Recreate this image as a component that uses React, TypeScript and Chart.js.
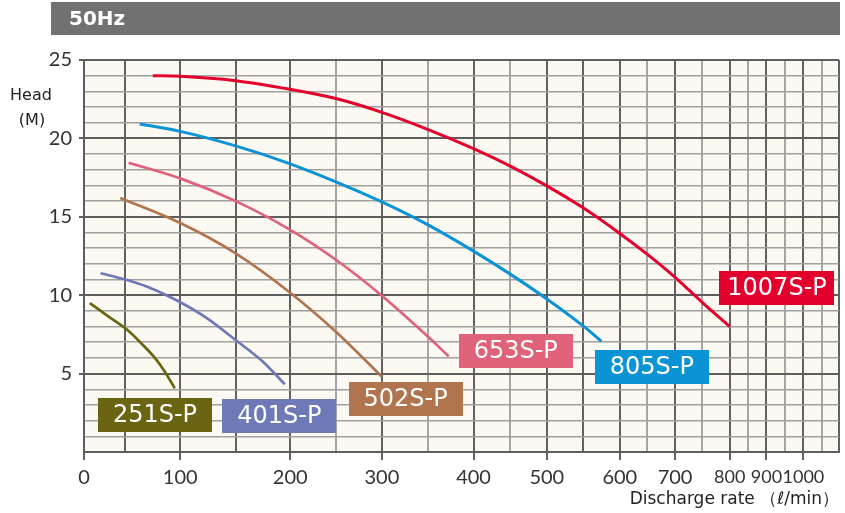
import React, { useEffect, useRef } from 'react';
import { Chart, registerables, LinearScale } from 'chart.js';

// ---------------- data ----------------
const discharge251 = [7, 29, 52, 64, 76, 86, 95];
const head251 = [9.5, 8.67, 7.78, 6.97, 6.08, 5.12, 4.06];
const discharge401 = [20, 50, 70, 100, 124, 150, 175, 195];
const head401 = [11.4, 11.0, 10.54, 9.55, 8.54, 7.14, 5.76, 4.32];
const discharge502 = [44, 100, 150, 200, 250, 300];
const head502 = [16.2, 14.6, 12.67, 10.16, 7.67, 4.8];
const discharge653 = [53, 100, 150, 200, 250, 300, 350, 373];
const head653 = [18.45, 17.45, 16.0, 14.17, 12.26, 9.97, 7.38, 6.1];
const discharge805 = [63, 100, 150, 200, 250, 300, 350, 400, 450, 500, 550, 575];
const head805 = [20.92, 20.45, 19.52, 18.38, 17.23, 15.95, 14.5, 12.81, 11.36, 9.76, 8.04, 7.06];
const discharge1007 = [75, 100, 150, 200, 250, 300, 350, 400, 450, 500, 550, 600, 650, 700, 750, 800];
const head1007 = [24.0, 23.96, 23.68, 23.13, 22.54, 21.66, 20.58, 19.35, 18.25, 16.97, 15.57, 13.94, 12.6, 11.14, 9.53, 8.0];

const seriesNames = ['251S-P', '401S-P', '502S-P', '653S-P', '805S-P', '1007S-P'];
const seriesColors = ['#6b6412', '#6e79b8', '#b0744e', '#df6279', '#0a94d6', '#e3002d'];

// label anchors (discharge, head) for the coloured name boxes
const labelAtDischarge = [77, 190, 326, 458, 658, 929];
const labelAtHead = [2.36, 2.3, 3.38, 6.47, 5.42, 10.46];

// x axis: printed (non-linear) scale, break values and their relative spacing
const xBreakValues = [0, 50, 100, 150, 200, 250, 300, 350, 400, 450, 500, 550, 600, 650, 700, 750, 800, 850, 900, 950, 1000, 1050, 1100];
const xBreakUnits = [0, 41.3, 96.3, 151.7, 206.3, 252, 298, 343.7, 389.7, 426, 463, 499.3, 536, 563.7, 591.3, 618.7, 646, 664.7, 682.7, 701, 719.7, 738, 755.3];
const xTickLabels = ['0', '100', '200', '300', '400', '500', '600', '700', '800', '900', '1000'];
const yTickLabels = ['5', '10', '15', '20', '25'];
const xLightGridValues = [250, 350, 450, 650, 750, 850, 950, 1050];

const FONT = "'DejaVu Sans', sans-serif";
const TICK_FONT = "Lato, 'DejaVu Sans', sans-serif";

function valueToFraction(v: number): number {
  const n = xBreakValues.length;
  const total = xBreakUnits[n - 1];
  if (v <= xBreakValues[0]) return xBreakUnits[0] / total;
  for (let i = 1; i < n; i++) {
    if (v <= xBreakValues[i]) {
      const t = (v - xBreakValues[i - 1]) / (xBreakValues[i] - xBreakValues[i - 1]);
      return (xBreakUnits[i - 1] + t * (xBreakUnits[i] - xBreakUnits[i - 1])) / total;
    }
  }
  return 1;
}
function fractionToValue(f: number): number {
  const n = xBreakValues.length;
  const u = f * xBreakUnits[n - 1];
  for (let i = 1; i < n; i++) {
    if (u <= xBreakUnits[i]) {
      const t = (u - xBreakUnits[i - 1]) / (xBreakUnits[i] - xBreakUnits[i - 1]);
      return xBreakValues[i - 1] + t * (xBreakValues[i] - xBreakValues[i - 1]);
    }
  }
  return xBreakValues[n - 1];
}

class PiecewiseScale extends LinearScale {
  static id = 'piecewise';
  static defaults = LinearScale.defaults;
  getPixelForValue(value: any) {
    if (value === null || value === undefined || isNaN(value)) return NaN;
    return this.getPixelForDecimal(valueToFraction(+value));
  }
  getValueForPixel(pixel: number) {
    return fractionToValue(this.getDecimalForPixel(pixel));
  }
}

Chart.register(...registerables, PiecewiseScale as any);

const toPoints = (xs: number[], ys: number[]) => xs.map((x, i) => ({ x, y: ys[i] }));
const seriesData = [
  toPoints(discharge251, head251),
  toPoints(discharge401, head401),
  toPoints(discharge502, head502),
  toPoints(discharge653, head653),
  toPoints(discharge805, head805),
  toPoints(discharge1007, head1007),
];

const backgroundPlugin = {
  id: 'plotBackground',
  beforeDraw(chart: any) {
    const { ctx, chartArea } = chart;
    ctx.save();
    ctx.fillStyle = '#fcf8f2';
    ctx.fillRect(chartArea.left, chartArea.top, chartArea.right - chartArea.left, chartArea.bottom - chartArea.top);
    // header band
    ctx.fillStyle = '#717171';
    ctx.fillRect(51, 2, 789, 33);
    ctx.fillStyle = '#ffffff';
    ctx.font = `bold 20px ${FONT}`;
    ctx.textAlign = 'left';
    ctx.textBaseline = 'middle';
    ctx.fillText('50Hz', 69, 20);
    // y axis title
    ctx.fillStyle = '#222';
    ctx.font = `16px ${FONT}`;
    ctx.textAlign = 'center';
    ctx.fillText('Head', 31, 96);
    ctx.fillText('(M)', 32, 121);
    ctx.restore();
  },
};

const labelPlugin = {
  id: 'seriesLabels',
  afterDatasetsDraw(chart: any) {
    const { ctx } = chart;
    const xs = chart.scales.x;
    const ys = chart.scales.y;
    seriesNames.forEach((name, i) => {
      const cx = xs.getPixelForValue(labelAtDischarge[i]);
      const cy = ys.getPixelForValue(labelAtHead[i]);
      ctx.save();
      ctx.font = `24px ${FONT}`;
      const tw = ctx.measureText(name).width;
      const w = Math.max(114, tw + 16);
      const h = 34;
      ctx.fillStyle = seriesColors[i];
      ctx.fillRect(Math.round(cx - w / 2), Math.round(cy - h / 2), Math.round(w), h);
      ctx.fillStyle = '#ffffff';
      ctx.textAlign = 'center';
      ctx.textBaseline = 'middle';
      ctx.fillText(name, cx, cy + 1);
      ctx.restore();
    });
  },
};

const isLightX = (v: number) => xLightGridValues.includes(v);

export default function App() {
  const ref = useRef<HTMLCanvasElement>(null);
  useEffect(() => {
    document.body.style.margin = '0';
    const canvas = ref.current!;
    const chart = new Chart(canvas, {
      type: 'line',
      data: {
        datasets: seriesData.map((d, i) => ({
          label: seriesNames[i],
          data: d,
          borderColor: seriesColors[i],
          backgroundColor: seriesColors[i],
          borderWidth: i >= 4 ? 3 : 2.7,
          pointRadius: 0,
          fill: false,
          cubicInterpolationMode: 'monotone',
        })),
      },
      options: {
        responsive: false,
        animation: false,
        devicePixelRatio: 1,
        layout: { padding: { top: 60, right: 6, left: 0, bottom: 0 } },
        plugins: { legend: { display: false }, tooltip: { enabled: false } },
        scales: {
          x: {
            type: 'piecewise' as any,
            min: 0,
            max: 1100,
            afterBuildTicks: (scale: any) => {
              scale.ticks = xBreakValues.map((v) => ({ value: v }));
            },
            afterFit: (scale: any) => {
              scale.height = 61;
            },
            grid: {
              color: (ctx: any) => (ctx.tick && isLightX(ctx.tick.value) ? '#a6a6a6' : '#626262'),
              lineWidth: 2,
              tickColor: (ctx: any) => (ctx.tick && ctx.tick.value % 100 === 0 && ctx.tick.value <= 1000 ? '#626262' : 'rgba(0,0,0,0)'),
              tickLength: 8,
              tickWidth: 2,
            },
            border: { color: '#5e5e5e', width: 2 },
            ticks: {
              autoSkip: false,
              maxRotation: 0,
              padding: 6,
              color: '#333',
              font: (ctx: any) => ({ family: TICK_FONT, size: ctx.tick && ctx.tick.value >= 800 ? 18 : 20, weight: '400' }),
              callback: (v: any) => (xTickLabels.includes(String(v)) ? String(v) : ''),
            },
            title: {
              display: true,
              text: 'Discharge rate （ℓ/min）',
              align: 'end',
              color: '#222',
              font: { family: FONT, size: 17 },
              padding: { top: 0, bottom: 3 },
            },
          },
          y: {
            type: 'linear',
            min: 0,
            max: 25,
            afterBuildTicks: (scale: any) => {
              const t = [];
              for (let v = 0; v <= 25; v++) t.push({ value: v });
              scale.ticks = t;
            },
            afterFit: (scale: any) => {
              scale.width = 84;
            },
            grid: {
              color: (ctx: any) => (ctx.tick && ctx.tick.value % 5 === 0 ? '#5e5e5e' : '#a0a0a0'),
              lineWidth: (ctx: any) => (ctx.tick && ctx.tick.value % 5 === 0 ? 2 : 1.5),
              tickColor: (ctx: any) => (ctx.tick && ctx.tick.value % 5 === 0 && ctx.tick.value > 0 ? '#5e5e5e' : 'rgba(0,0,0,0)'),
              tickLength: 5,
              tickWidth: 2,
            },
            border: { color: '#5e5e5e', width: 2 },
            ticks: {
              autoSkip: false,
              padding: 7,
              color: '#333',
              font: { family: TICK_FONT, size: 20, weight: '400' },
              callback: (v: any) => (yTickLabels.includes(String(v)) ? String(v) : ''),
            },
          },
        },
      },
      plugins: [backgroundPlugin, labelPlugin],
    } as any);
    return () => chart.destroy();
  }, []);
  return <canvas ref={ref} width={845} height={513} style={{ display: 'block', width: 845, height: 513 }} />;
}
